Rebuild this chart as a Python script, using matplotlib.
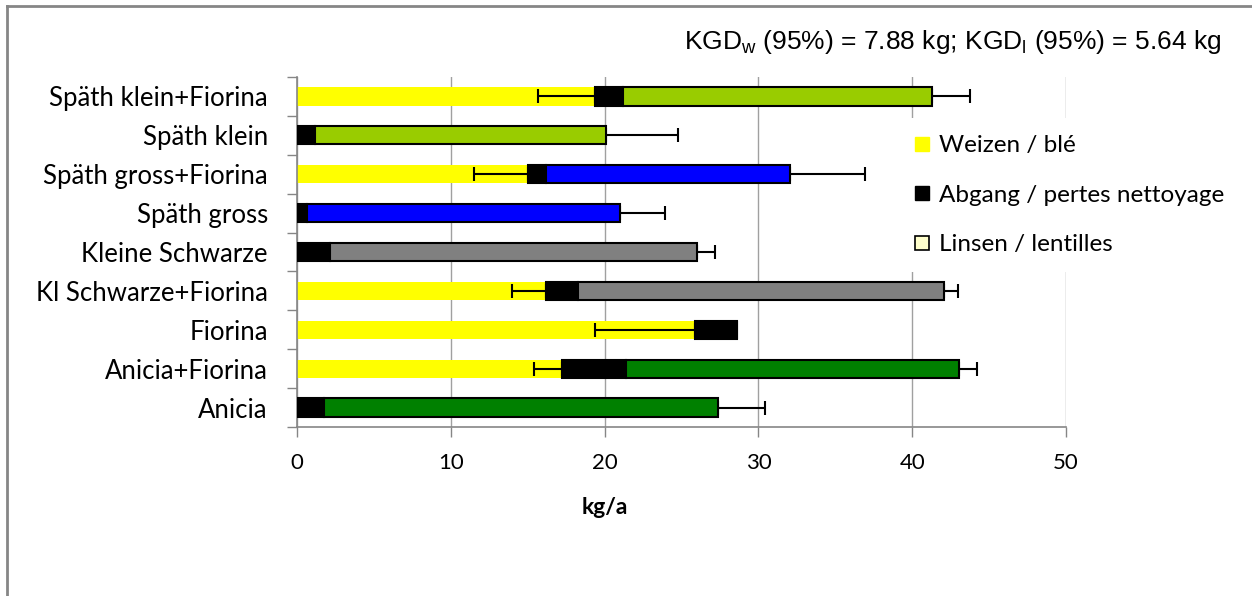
import matplotlib
matplotlib.use("Agg")
import matplotlib.pyplot as plt
from matplotlib.lines import Line2D
from matplotlib.ticker import MultipleLocator, FixedLocator

plt.rcParams["font.family"] = ["Lato", "DejaVu Sans"]
plt.rcParams["mathtext.fontset"] = "custom"
plt.rcParams["mathtext.rm"] = "Liberation Sans"

# rows from bottom to top
categories = ["Anicia", "Anicia+Fiorina", "Fiorina", "Kl Schwarze+Fiorina",
              "Kleine Schwarze", "Späth gross", "Späth gross+Fiorina",
              "Späth klein", "Späth klein+Fiorina"]
weizen = [0, 17.25, 25.9, 16.2, 0, 0, 15.05, 0, 19.4]
abgang = [1.78, 4.15, 2.7, 2.1, 2.15, 0.67, 1.15, 1.15, 1.8]
linsen = [25.62, 21.64, 0, 23.8, 23.85, 20.33, 15.85, 18.95, 20.1]
weizen_err = [0, 1.85, 6.55, 2.2, 0, 0, 3.55, 0, 3.7]
total_err = [3.0, 1.16, 0, 0.86, 1.2, 2.9, 4.9, 4.7, 2.45]
linsen_colors = ["#008000", "#008000", "#008000", "#808080", "#808080",
                 "#0000FF", "#0000FF", "#99CC00", "#99CC00"]

fig = plt.figure(figsize=(12.52, 5.96), dpi=100)
ax = fig.add_axes([297 / 1252, 1 - 427 / 596, 769 / 1252, 350 / 596])

y = list(range(len(categories)))
h = 0.47
left_a = weizen
left_l = [w + a for w, a in zip(weizen, abgang)]
total = [w + a + l for w, a, l in zip(weizen, abgang, linsen)]

ax.barh(y, weizen, height=h, color="#FFFF00", edgecolor="none", zorder=2)
ax.barh(y, abgang, left=left_a, height=h, color="black", edgecolor="black",
        linewidth=1.5, zorder=4)
ax.barh(y, linsen, left=left_l, height=h, color=linsen_colors, edgecolor="black",
        linewidth=1.5, zorder=4)

# error bars: minus side on wheat, plus side on total
for i in y:
    if weizen_err[i] > 0:
        ax.errorbar(weizen[i], i, xerr=[[weizen_err[i]], [0]], fmt="none",
                    ecolor="black", elinewidth=1.5, capsize=5, capthick=1.5, zorder=3)
    if total_err[i] > 0:
        ax.errorbar(total[i], i, xerr=[[0], [total_err[i]]], fmt="none",
                    ecolor="black", elinewidth=1.5, capsize=5, capthick=1.5, zorder=3)

ax.set_xlim(0, 50)
ax.set_ylim(-0.5, len(categories) - 0.5)
ax.xaxis.set_major_locator(MultipleLocator(10))
ax.set_yticks(y)
ax.set_yticklabels(categories)
ax.yaxis.set_minor_locator(FixedLocator([i - 0.5 for i in range(len(categories) + 1)]))
ax.tick_params(axis="y", which="major", length=0, pad=21, labelsize=18.5)
ax.tick_params(axis="y", which="minor", length=7, color="#868686", width=1)
ax.tick_params(axis="x", length=7, color="#868686", width=1, pad=12, labelsize=16)

ax.grid(True, axis="x", color="#A0A0A0", linewidth=1, zorder=0)
ax.set_axisbelow(True)
for s in ["top", "right"]:
    ax.spines[s].set_visible(False)
for s in ["left", "bottom"]:
    ax.spines[s].set_color("#868686")
    ax.spines[s].set_linewidth(1.2)

ax.set_xlabel("kg/a", fontsize=16.5, fontweight="bold")
ax.xaxis.set_label_coords(0.4, -0.2)

handles = [
    Line2D([], [], marker="s", linestyle="none", markersize=10,
           markerfacecolor="#FFFF00", markeredgecolor="#FFFF00"),
    Line2D([], [], marker="s", linestyle="none", markersize=10,
           markerfacecolor="black", markeredgecolor="black"),
    Line2D([], [], marker="s", linestyle="none", markersize=10,
           markerfacecolor="#FFFFCC", markeredgecolor="black", markeredgewidth=1.2),
]
leg = fig.legend(handles, ["Weizen / blé", "Abgang / pertes nettoyage", "Linsen / lentilles"],
                 loc="upper left", bbox_to_anchor=(893 / 1252, 1 - 118 / 596),
                 frameon=True, fontsize=17.5, labelspacing=1.18, handletextpad=0.2,
                 handlelength=1.0, borderaxespad=0, borderpad=0.7)
leg.get_frame().set_edgecolor("none")
leg.get_frame().set_facecolor("white")
leg.get_frame().set_alpha(1)

fig.text(1221 / 1252, 1 - 42 / 596,
         "KGD$_\\mathrm{w}$ (95%) = 7.88 kg; KGD$_\\mathrm{l}$ (95%) = 5.64 kg",
         ha="right", va="center", fontsize=19, family="Liberation Sans")

# outer frame
fig.add_artist(Line2D([7 / 1252, 7 / 1252], [0, 1 - 6 / 596], transform=fig.transFigure,
                      color="#868686", linewidth=2))
fig.add_artist(Line2D([7 / 1252, 1], [1 - 6 / 596, 1 - 6 / 596], transform=fig.transFigure,
                      color="#868686", linewidth=2))

fig.savefig("out.png", dpi=100)
